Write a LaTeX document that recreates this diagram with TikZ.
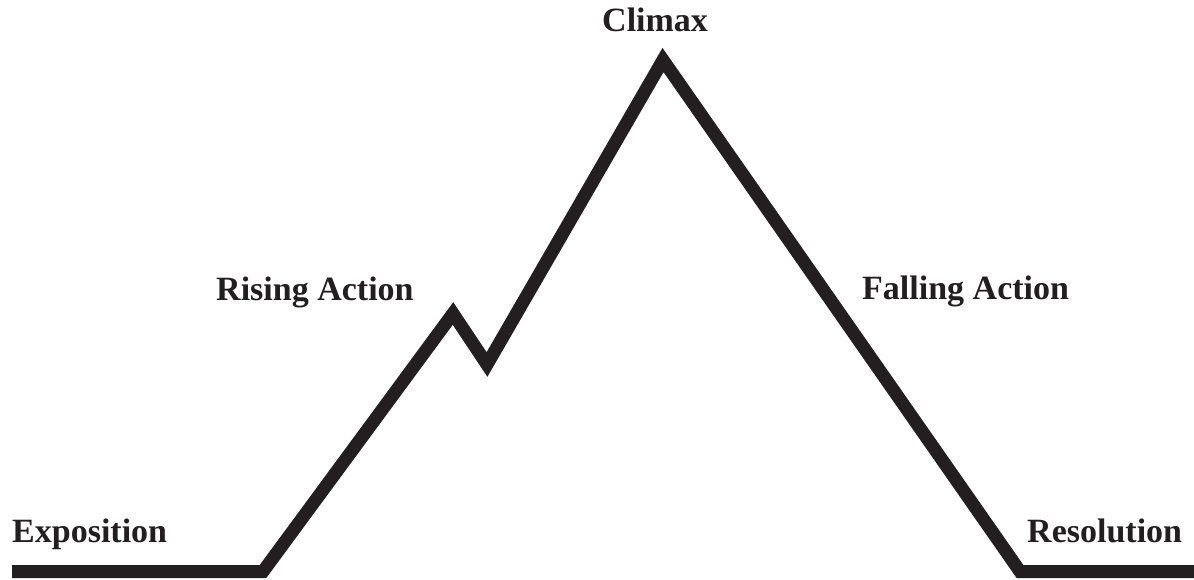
\documentclass[tikz,border=0pt]{standalone}
\usepackage{fontspec}
\setmainfont{Liberation Serif}
\usetikzlibrary{positioning}
\definecolor{ink}{HTML}{231F20}

\begin{document}
\begin{tikzpicture}[x=1pt,y=-1pt]
\tikzstyle{every node}=[inner sep=0pt, anchor=base west, text=ink, font=\fontsize{34}{36}\selectfont\bfseries]
\tikzstyle{plotline}=[draw=ink, line width=13pt, line join=miter, miter limit=10]
\useasboundingbox (0,0) rectangle (1194,580);
\coordinate (start) at (12,571.5);
\coordinate (rise) at (263,571.5);
\coordinate (peak) at (453,313.5);
\coordinate (dip) at (487,364.5);
\coordinate (top) at (663,60);
\coordinate (fall) at (1020,571.5);
\coordinate (stop) at (1194,571.5);
\draw (12,542) node (expo) {Exposition};
\draw (216,300) node (rising) {Rising Action};
\draw (602,32) node (climax) {Climax};
\draw (862,299) node (falling) {Falling Action};
\draw (1027,542) node (resol) {Resolution};
\draw[plotline] (start) -- (rise) -- (peak) -- (dip) -- (top) -- (fall) -- (stop);
\end{tikzpicture}
\end{document}
